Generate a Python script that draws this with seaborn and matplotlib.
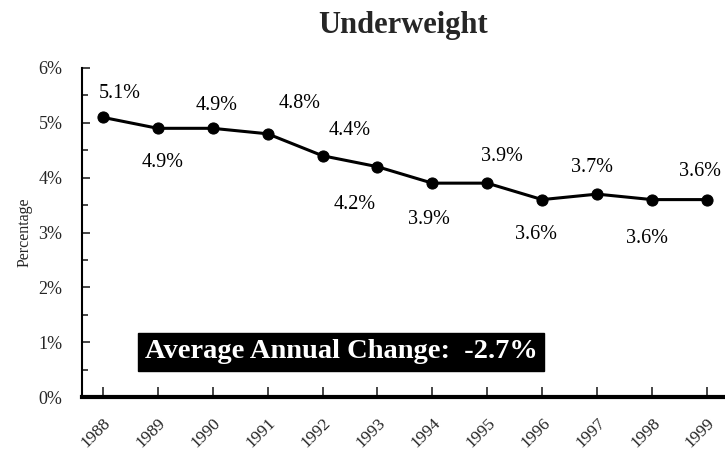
import matplotlib
matplotlib.use("Agg")
import matplotlib.pyplot as plt
import seaborn as sns
from matplotlib.ticker import MultipleLocator, FuncFormatter

years = ["1988", "1989", "1990", "1991", "1992", "1993",
         "1994", "1995", "1996", "1997", "1998", "1999"]
underweight = [5.1, 4.9, 4.9, 4.8, 4.4, 4.2, 3.9, 3.9, 3.6, 3.7, 3.6, 3.6]
avg_change = -2.7

# label offsets in pixels (dx, dy), dy positive = up
label_offsets = [(17, 24), (5, -34), (4, 23), (32, 30), (27, 25), (-23, -38),
                 (-3, -36), (15, 27), (-6, -35), (-5, 27), (-5, -39), (-7, 28)]

sns.set_theme(style="white")
plt.rcParams["font.family"] = ["Liberation Serif", "DejaVu Serif"]

fig = plt.figure(figsize=(7.25, 4.53), dpi=100)
ax = fig.add_axes([82 / 725, 56 / 453, 1.0 - 82 / 725, 329 / 453])

pos = list(range(len(years)))
sns.lineplot(x=pos, y=underweight, ax=ax, color="black", linewidth=2.2,
             marker="o", markersize=8, markeredgecolor="black")

for i, v in enumerate(underweight):
    dx, dy = label_offsets[i]
    ax.annotate(f"{v:.1f}%", (i, v), xytext=(dx * 0.72, dy * 0.72),
                textcoords="offset points", ha="center", va="center",
                fontsize=14.5, color="black")

ax.set_xlim(-0.38, 11.33)
ax.set_ylim(0, 6)
ax.set_xticks(pos)
ax.set_xticklabels(years, rotation=45, ha="right", rotation_mode="anchor",
                   fontsize=12.5)
ax.yaxis.set_major_locator(MultipleLocator(1))
ax.yaxis.set_minor_locator(MultipleLocator(0.5))
ax.yaxis.set_major_formatter(FuncFormatter(lambda v, p: f"{v:.0f}%"))
ax.tick_params(axis="y", which="major", direction="in", length=6, width=1.2,
               labelsize=13, pad=14, left=True)
ax.tick_params(axis="y", which="minor", direction="in", length=4, width=1.2,
               left=True)
ax.tick_params(axis="x", which="major", direction="in", length=7, width=1.2,
               pad=13, bottom=True)

sns.despine(ax=ax, top=True, right=True)
ax.spines["left"].set_linewidth(1.5)
ax.spines["bottom"].set_linewidth(3)
ax.spines["left"].set_color("black")
ax.spines["bottom"].set_color("black")

ax.set_ylabel("Percentage", fontsize=11.5, labelpad=4)
ax.set_xlabel("")
fig.text((82 + 725) / 2 / 725, 1 - 26 / 453, "Underweight", ha="center",
         va="center", fontsize=22, fontweight="bold")

ax.text(0.403, 0.137, f"Average Annual Change:  {avg_change:.1f}%",
        transform=ax.transAxes, ha="center", va="center", color="white",
        fontsize=20.5, fontweight="bold",
        bbox=dict(facecolor="black", edgecolor="black", boxstyle="square,pad=0.22"))

fig.savefig("out.png", dpi=100)
